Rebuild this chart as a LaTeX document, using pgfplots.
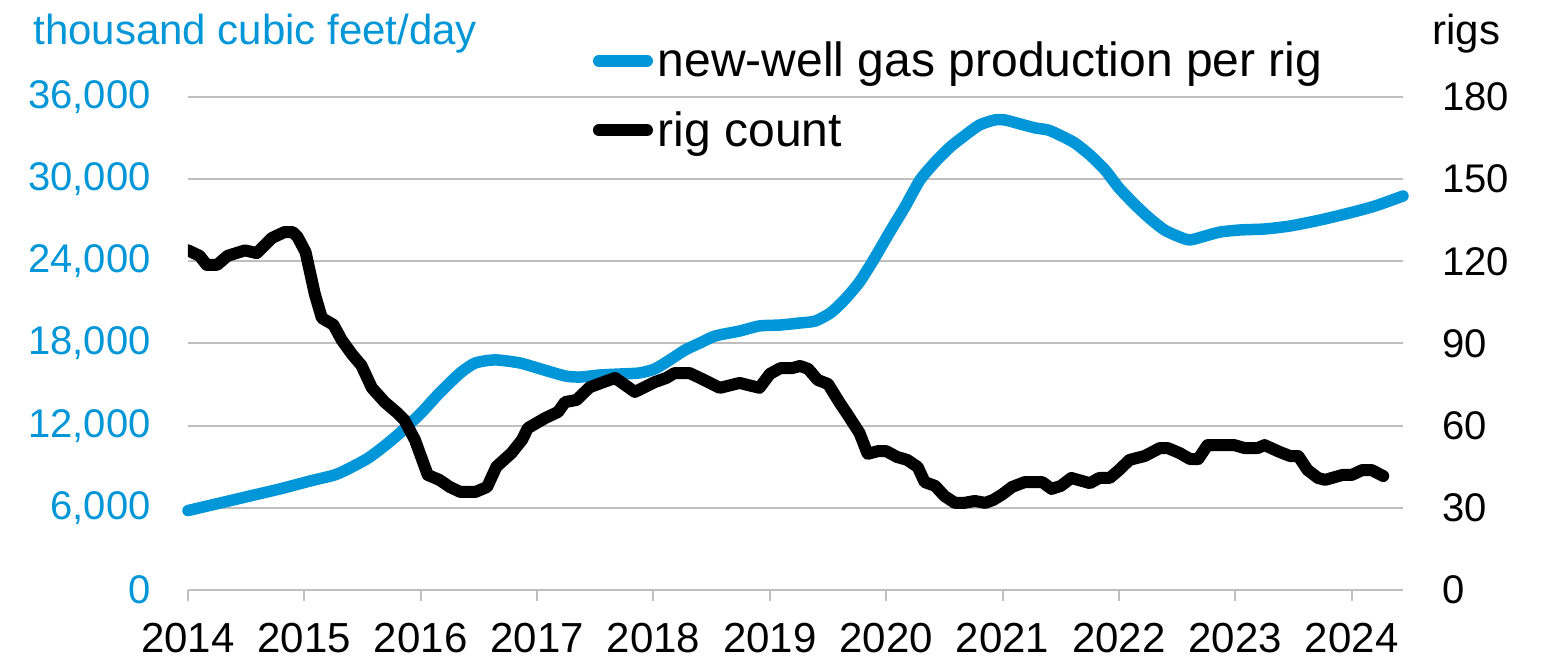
\documentclass[border=0pt]{standalone}
\usepackage{pgfplots}
\pgfplotsset{compat=1.18}
\usepackage{fontspec}
\setmainfont{Liberation Sans}
\definecolor{eiablue}{RGB}{0,150,215}
\definecolor{gridgray}{RGB}{191,191,191}

\pgfplotstableread{
x y
2014.00 5800
2014.53 6860
2014.79 7380
2015.05 7960
2015.26 8400
2015.39 8900
2015.55 9640
2015.70 10600
2015.82 11460
2016.00 12900
2016.16 14380
2016.34 15850
2016.47 16580
2016.64 16800
2016.85 16580
2017.03 16140
2017.24 15630
2017.37 15550
2017.54 15700
2017.71 15770
2017.88 15850
2018.01 16140
2018.14 16800
2018.27 17520
2018.40 18040
2018.53 18550
2018.74 18910
2018.91 19280
2019.09 19350
2019.26 19500
2019.39 19640
2019.52 20230
2019.64 21180
2019.77 22490
2019.90 24240
2020.03 26140
2020.16 27970
2020.29 29940
2020.42 31250
2020.55 32350
2020.68 33220
2020.80 33950
2020.93 34320
2021.02 34320
2021.15 34030
2021.28 33740
2021.39 33590
2021.49 33220
2021.62 32640
2021.75 31760
2021.88 30670
2022.00 29350
2022.14 28110
2022.26 27160
2022.39 26290
2022.52 25780
2022.61 25560
2022.74 25850
2022.87 26140
2023.04 26290
2023.25 26360
2023.47 26580
2023.73 27020
2023.98 27530
2024.20 28040
2024.44 28770
}\gasdata

\pgfplotstableread{
x y
2014.00 124
2014.10 122
2014.16 118.7
2014.25 118.7
2014.34 122
2014.49 124
2014.59 123
2014.72 128.5
2014.83 130.7
2014.90 130.7
2014.94 129
2015.01 123.4
2015.09 108
2015.15 99.3
2015.25 96.8
2015.32 91.3
2015.41 86
2015.49 82
2015.58 73.8
2015.69 68.6
2015.80 64.6
2015.86 62
2015.95 54.8
2016.06 42
2016.16 40.2
2016.25 37.6
2016.34 35.8
2016.47 35.8
2016.57 37.6
2016.65 45
2016.78 50
2016.87 54.8
2016.92 59.1
2017.07 62.8
2017.18 65
2017.24 68.6
2017.34 69.4
2017.45 74
2017.57 75.9
2017.67 77.4
2017.84 72.3
2018.01 75.9
2018.11 77.4
2018.18 79.2
2018.31 79.2
2018.40 77.4
2018.57 73.8
2018.74 75.6
2018.91 73.8
2019.00 78.9
2019.09 81
2019.19 81
2019.26 81.8
2019.33 80.7
2019.41 76.7
2019.50 75.2
2019.60 68.3
2019.67 63.9
2019.77 57.3
2019.84 49.7
2019.93 50.7
2020.00 50.7
2020.09 48.6
2020.18 47.5
2020.27 44.9
2020.33 39.4
2020.42 38
2020.50 34.3
2020.59 31.8
2020.67 31.8
2020.76 32.5
2020.85 31.8
2020.92 32.9
2021.00 35
2021.08 37.6
2021.19 39.4
2021.34 39.4
2021.42 36.9
2021.50 38
2021.59 40.9
2021.75 39
2021.83 40.9
2021.92 40.9
2022.00 43.8
2022.09 47.5
2022.22 48.9
2022.35 51.8
2022.42 51.8
2022.52 50
2022.61 47.8
2022.68 47.8
2022.76 52.9
2022.88 52.9
2022.99 52.9
2023.08 51.8
2023.19 51.8
2023.25 52.9
2023.38 50.4
2023.47 48.9
2023.54 48.9
2023.62 43.8
2023.71 40.9
2023.77 40.2
2023.92 42
2024.00 42
2024.09 43.8
2024.17 43.8
2024.27 41.6
}\rigdata

\begin{document}
\begin{tikzpicture}
\pgfplotsset{
  common/.style={
    width=607.5pt, height=246.5pt, scale only axis,
    xmin=2014, xmax=2024.44,
    scaled y ticks=false, scaled x ticks=false,
    yticklabel style={font=\fontsize{20}{24}\selectfont},
    xticklabel style={font=\fontsize{21}{25}\selectfont},
  }
}
\begin{axis}[
  common, name=ax,
  ymin=0, ymax=36000,
  ytick={0,6000,...,36000},
  yticklabels={0,{6,000},{12,000},{18,000},{24,000},{30,000},{36,000}},
  yticklabel style={text=eiablue, anchor=east, inner sep=0pt, xshift=-13pt},
  ytick style={draw=none},
  axis x line*=bottom,
  axis y line*=left,
  y axis line style={draw=none},
  x axis line style={gridgray, line width=1pt},
  xtick={2014,...,2024},
  xticklabels={2014,2015,2016,2017,2018,2019,2020,2021,2022,2023,2024},
  xtick style={gridgray, line width=1pt},
  tick align=outside,
  major tick length=5.5pt,
  xticklabel style={anchor=north, inner sep=0pt, yshift=-11pt},
  ymajorgrids, grid style={gridgray, line width=1pt},
  clip=false,
]
\addplot[eiablue, line width=5.75pt, line cap=round, line join=round, smooth, tension=0.4] table[x=x,y=y] {\gasdata};
\node[anchor=base west, text=eiablue, font=\fontsize{21}{25}\selectfont, inner sep=0pt] at (rel axis cs:-0.1276,1.1055) {thousand cubic feet/day};
\node[anchor=base west, font=\fontsize{21}{25}\selectfont, inner sep=0pt] at (rel axis cs:1.0239,1.1055) {rigs};
\end{axis}
\begin{axis}[
  common,
  ymin=0, ymax=180,
  ytick={0,30,...,180},
  yticklabels={0,30,60,90,120,150,180},
  yticklabel style={anchor=west, inner sep=0pt, xshift=19.5pt},
  axis y line*=right,
  axis x line=none,
  y axis line style={draw=none},
  ytick style={draw=none},
  legend style={at={(rel axis cs:0.3333,1.1116)}, anchor=north west, draw=none, fill=none,
    inner sep=0pt, outer sep=0pt, row sep=15.8pt, column sep=2.5pt,
    nodes={inner sep=0pt}, font=\fontsize{24}{28.8}\selectfont},
  legend cell align=left,
  legend image code/.code={\draw[#1, line cap=round] (0pt,0pt) -- (24pt,0pt);},
]
\addlegendimage{eiablue, line width=6pt}
\addlegendentry{new-well gas production per rig}
\addplot[black, line width=6pt, line cap=round, line join=round] table[x=x,y=y] {\rigdata};
\addlegendentry{rig count}
\end{axis}
\path ([xshift=-94pt,yshift=-35pt]ax.south west) rectangle ([xshift=70pt,yshift=48.5pt]ax.north east);
\end{tikzpicture}
\end{document}
